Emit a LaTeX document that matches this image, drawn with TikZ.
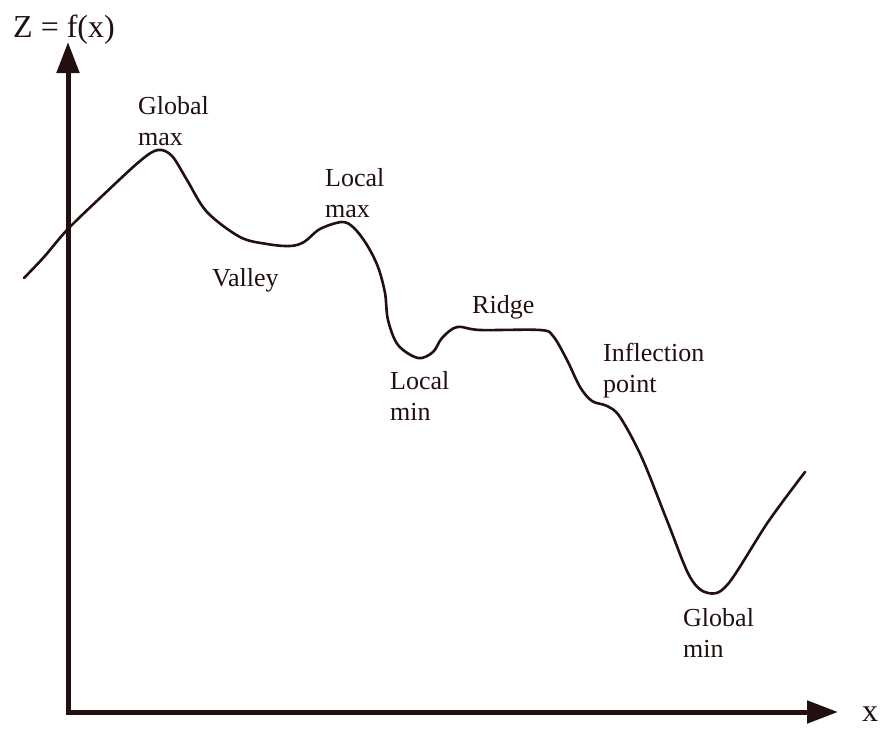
\documentclass[tikz,border=0pt]{standalone}
\usepackage{fontspec}
\setmainfont{Liberation Serif}
\usetikzlibrary{arrows.meta}
\definecolor{ink}{RGB}{35,15,15}
\tikzset{
  axis/.style={draw=ink, line width=5pt, -{Triangle[length=31pt,width=22pt]}},
  curve/.style={draw=ink, line width=2.6pt, line cap=round, line join=round},
  % multi-line labels are placed by the baseline of their last line
  lbl/.style={text=ink, inner sep=0pt, anchor=base west, align=left,
              font=\fontsize{26}{31}\selectfont},
  axlbl/.style={text=ink, inner sep=0pt, anchor=base west,
              font=\fontsize{32}{38}\selectfont}
}
\begin{document}
\begin{tikzpicture}[x=1pt, y=-1pt]
\useasboundingbox (0,0) rectangle (882,728);

% axes
\coordinate (origin) at (68,712);
\coordinate (ytip) at (68,42);
\coordinate (xtip) at (838,712);
\draw[axis] (68,714.5) -- (ytip);
\draw[axis] (65.5,712) -- (xtip);
\node[axlbl] (zlabel) at (13,37) {Z = f(x)};
\node[axlbl] (xlabel) at (862,721) {x};

% the function
\draw[curve] plot[smooth, tension=0.55] coordinates {
  (24,278) (44,257) (67,230) (100,198) (140,161) (158,150) (172,156)
  (187,180) (207,212) (240,237) (267,244) (290,246) (304,242) (320,229)
  (342,222) (354,228) (367,245) (378,267) (385,293) (388,320) (398,345)
  (418,358) (433,352) (442,338) (457,327) (480,330) (540,330) (553,336)
  (567,360) (580,387) (592,401) (607,406) (620,417) (642,458) (668,523)
  (690,577) (708,593) (728,584) (768,522) (805,472)
};

% labels
\node[lbl] (gmax) at (138,145) {Global\\max};
\node[lbl] (lmax) at (325,217) {Local\\max};
\node[lbl] (valley) at (212,286) {Valley};
\node[lbl] (ridge) at (472,313) {Ridge};
\node[lbl] (lmin) at (390,420) {Local\\min};
\node[lbl] (infl) at (603,392) {Inflection\\point};
\node[lbl] (gmin) at (683,657) {Global\\min};
\end{tikzpicture}
\end{document}
